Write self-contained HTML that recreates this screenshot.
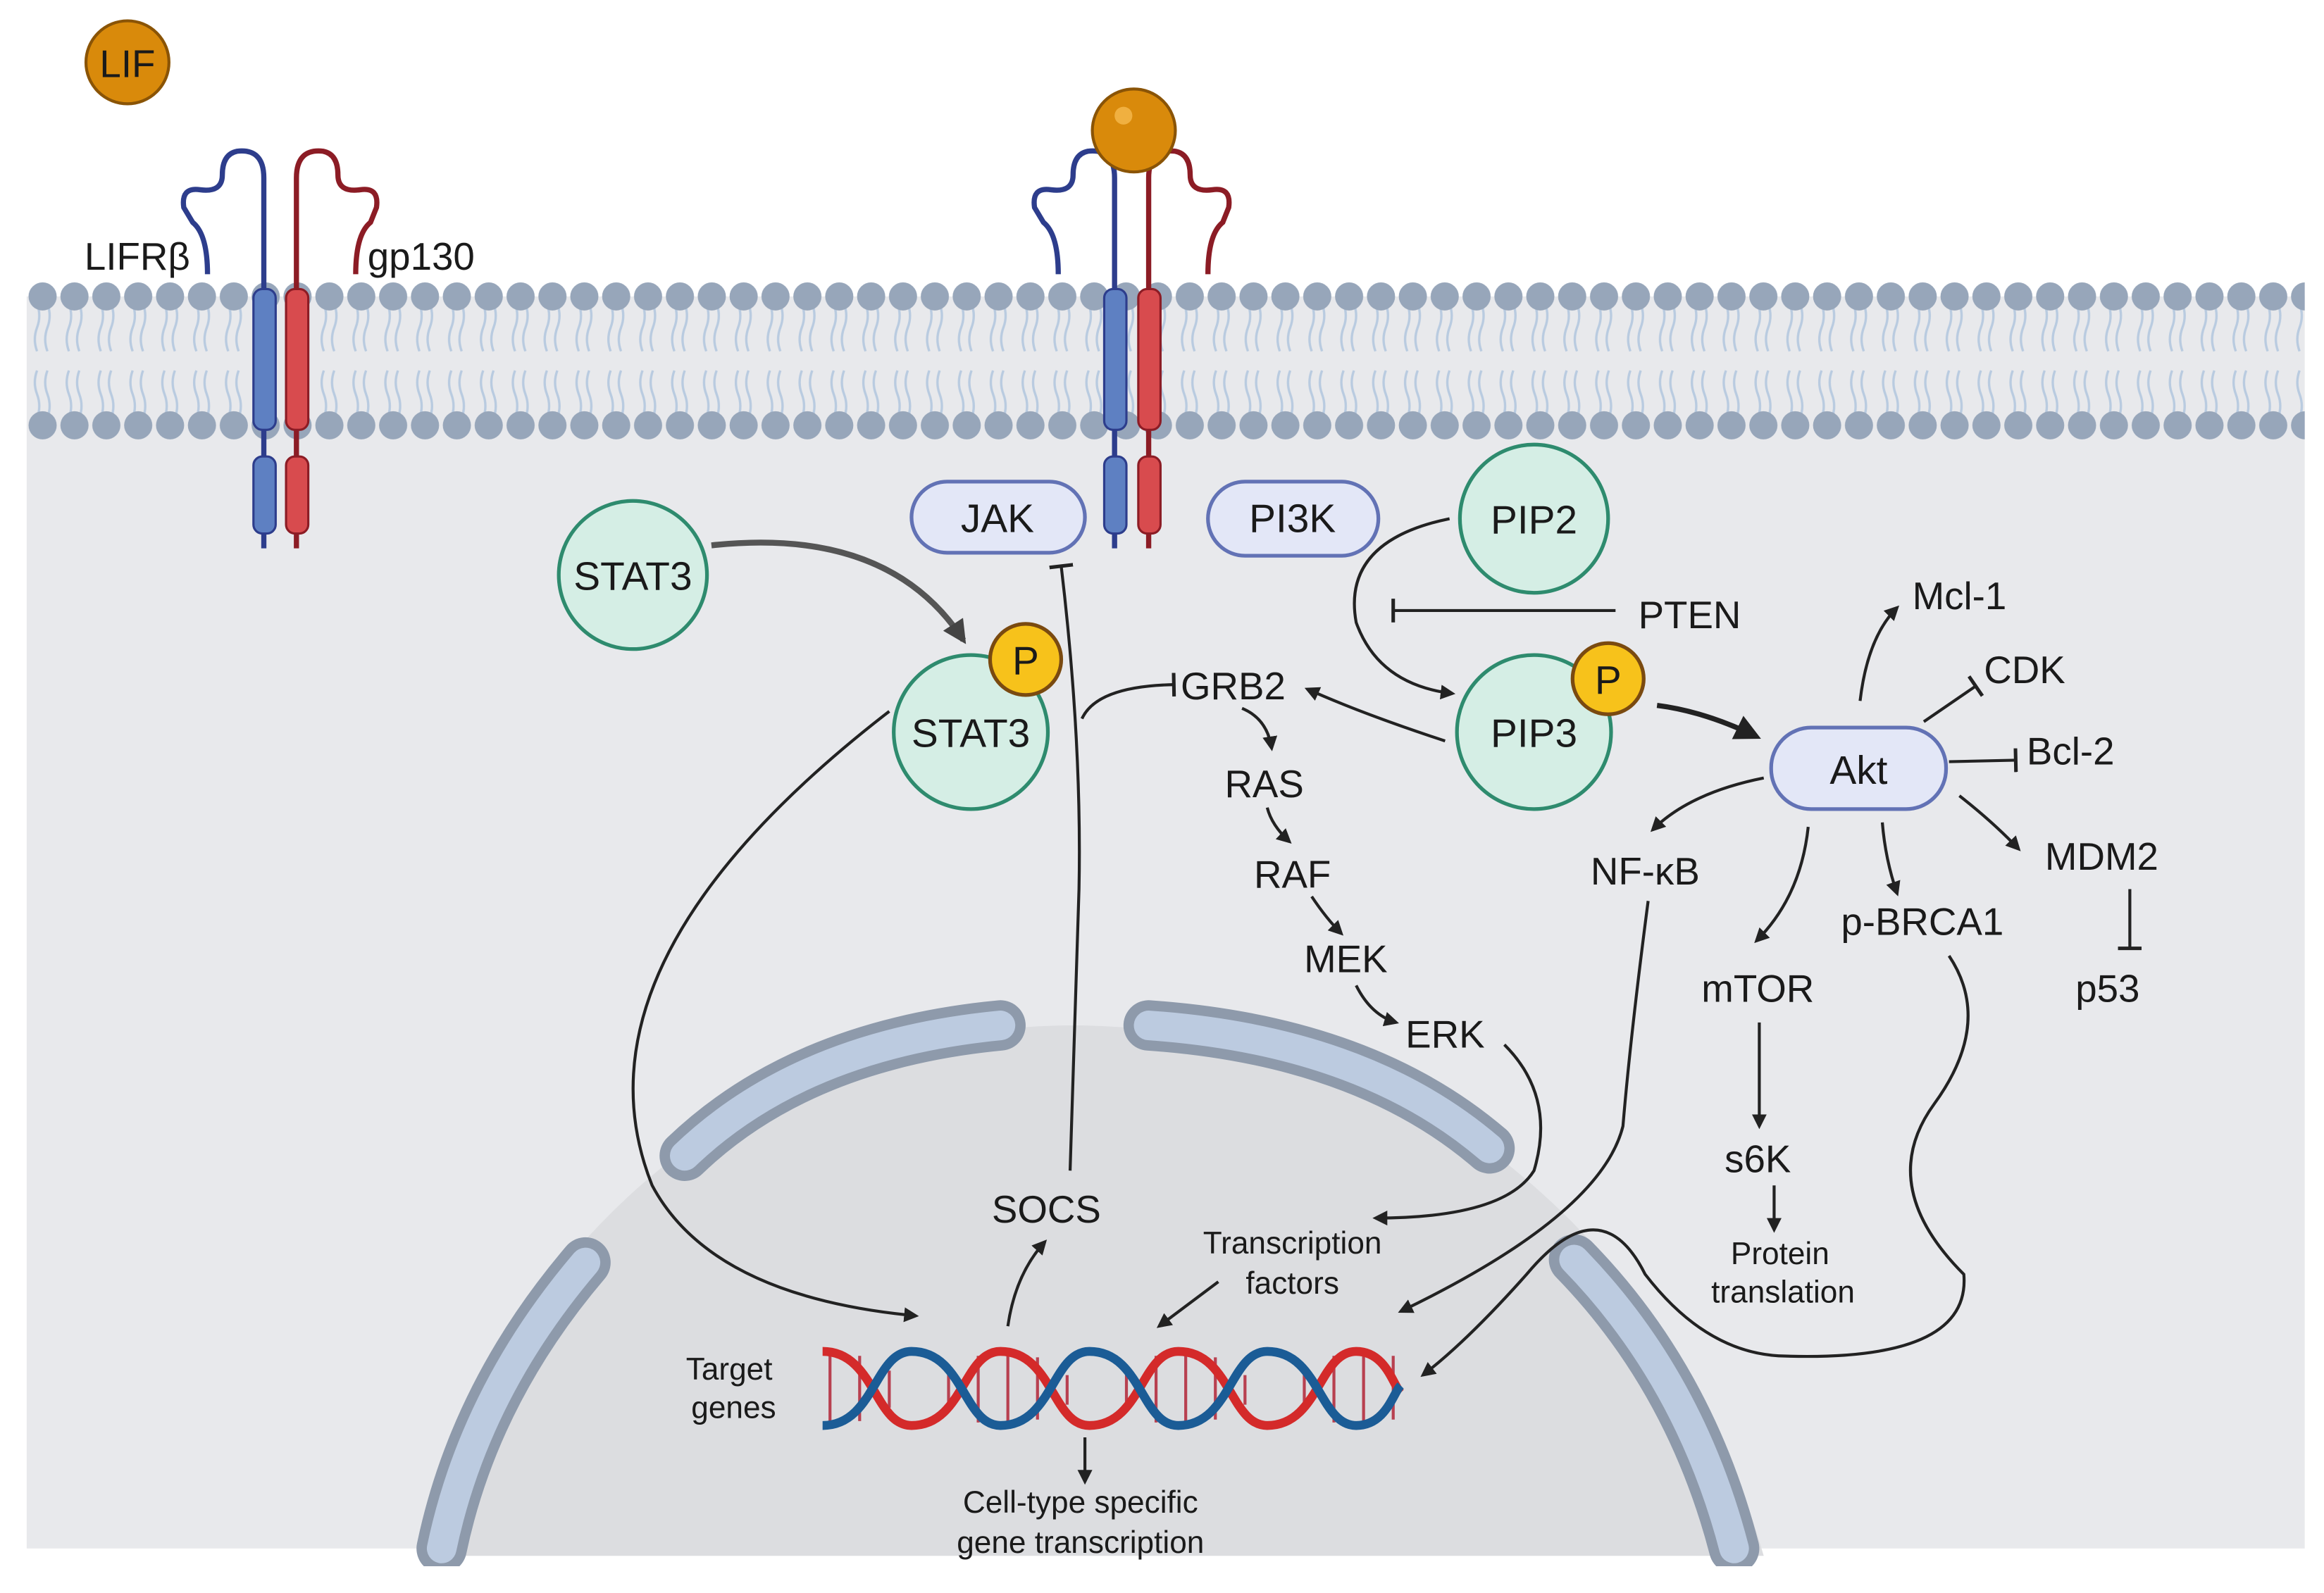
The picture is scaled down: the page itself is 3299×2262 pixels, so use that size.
<!DOCTYPE html>
<html><head><meta charset="utf-8"><style>
html,body{margin:0;padding:0;background:#fff;}
svg{display:block;}
text{font-family:"Liberation Sans",sans-serif;fill:#1a1a1a;}
</style></head><body>
<svg width="3299" height="2262" viewBox="0 0 1568 1075" xmlns="http://www.w3.org/2000/svg">
<defs>
<marker id="a" viewBox="0 0 10 10" refX="8" refY="5" markerWidth="5" markerHeight="5" orient="auto-start-reverse"><path d="M0,0 L10,5 L0,10 z" fill="#222"/></marker>
<marker id="A" viewBox="0 0 10 10" refX="8" refY="5" markerWidth="4" markerHeight="4" orient="auto"><path d="M0,0 L10,5 L0,10 z" fill="#444"/></marker>
<marker id="t" viewBox="0 0 10 20" refX="5" refY="10" markerWidth="4" markerHeight="8" orient="auto"><path d="M5,0 L5,20" stroke="#222" stroke-width="3"/></marker>
<pattern id="mem" x="18" y="0" width="21.5" height="1075" patternUnits="userSpaceOnUse">
<path d="M7,205 q3,8 0,16 q-3,8 0,16 M14,205 q3,8 0,16 q-3,8 0,16 M7,282 q3,-8 0,-16 q-3,-8 0,-16 M14,282 q3,-8 0,-16 q-3,-8 0,-16" stroke="#b9cbe0" stroke-width="1.6" fill="none"/>
<circle cx="10.75" cy="200" r="9.5" fill="#97a6ba"/>
<circle cx="10.75" cy="287" r="9.5" fill="#97a6ba"/>
</pattern>
</defs>
<rect x="18" y="200" width="1537" height="845" fill="#e8e9ec"/>
<rect x="18" y="189" width="1537" height="110" fill="url(#mem)"/>
<!-- nucleus -->
<path d="M285 1050 Q330 870 470 770 Q600 690 730 692 Q880 695 1010 780 Q1140 880 1190 1050 Z" fill="#dcdde0"/>
<g fill="none" stroke-linecap="round">
<g stroke="#8e9aab" stroke-width="34">
<path d="M462 780 Q540 705 675 692"/><path d="M775 692 Q920 702 1005 775"/>
<path d="M395 852 Q320 940 298 1045"/><path d="M1062 850 Q1140 930 1170 1045"/></g>
<g stroke="#bccbe0" stroke-width="20">
<path d="M462 780 Q540 705 675 692"/><path d="M775 692 Q920 702 1005 775"/>
<path d="M395 852 Q320 940 298 1045"/><path d="M1062 850 Q1140 930 1170 1045"/></g>
</g>
<rect x="0" y="1057" width="1568" height="18" fill="#fff"/>
<!-- receptors -->
<g fill="none" stroke-width="3.5">
<path d="M178 370 L178 120 Q178 100 160 102 Q150 104 150 118 Q150 130 135 128 Q122 126 124 140 L130 150 Q140 158 140 185" stroke="#2d3d8c"/>
<path d="M200 370 L200 120 Q200 100 218 102 Q228 104 228 118 Q228 130 243 128 Q256 126 254 140 L250 150 Q240 158 240 185" stroke="#8c1c25"/>
<path d="M752 370 L752 120 Q752 100 734 102 Q724 104 724 118 Q724 130 709 128 Q696 126 698 140 L704 150 Q714 158 714 185" stroke="#2d3d8c"/>
<path d="M775 370 L775 120 Q775 100 793 102 Q803 104 803 118 Q803 130 818 128 Q831 126 829 140 L825 150 Q815 158 815 185" stroke="#8c1c25"/>
</g>
<g stroke-width="1.5">
<rect x="171" y="195" width="15" height="95" rx="6" fill="#5e80c2" stroke="#2d3d8c"/>
<rect x="171" y="308" width="15" height="52" rx="6" fill="#5e80c2" stroke="#2d3d8c"/>
<rect x="193" y="195" width="15" height="95" rx="6" fill="#d84b4e" stroke="#8c1c25"/>
<rect x="193" y="308" width="15" height="52" rx="6" fill="#d84b4e" stroke="#8c1c25"/>
<rect x="745" y="195" width="15" height="95" rx="6" fill="#5e80c2" stroke="#2d3d8c"/>
<rect x="745" y="308" width="15" height="52" rx="6" fill="#5e80c2" stroke="#2d3d8c"/>
<rect x="768" y="195" width="15" height="95" rx="6" fill="#d84b4e" stroke="#8c1c25"/>
<rect x="768" y="308" width="15" height="52" rx="6" fill="#d84b4e" stroke="#8c1c25"/>
</g>
<circle cx="86" cy="42" r="28" fill="#d98a0b" stroke="#8a5406" stroke-width="2"/>
<text x="86" y="52" font-size="26" text-anchor="middle">LIF</text>
<circle cx="765" cy="88" r="28" fill="#d98a0b" stroke="#8a5406" stroke-width="2"/>
<circle cx="758" cy="78" r="6" fill="#f0b040"/>
<text x="57" y="182" font-size="26">LIFRβ</text>
<text x="248" y="182" font-size="26">gp130</text>
<!-- pills -->
<g fill="#e3e7f7" stroke="#6272b5" stroke-width="2.5">
<rect x="615" y="325" width="117" height="48" rx="24"/>
<rect x="815" y="325" width="115" height="50" rx="25"/>
<rect x="1195" y="491" width="118" height="55" rx="27"/>
</g>
<g font-size="27" text-anchor="middle">
<text x="673" y="359">JAK</text><text x="872" y="359">PI3K</text><text x="1254" y="529">Akt</text>
</g>
<!-- circles -->
<g fill="#d5eee5" stroke="#2e8b6e" stroke-width="2.5">
<circle cx="427" cy="388" r="50"/><circle cx="655" cy="494" r="52"/>
<circle cx="1035" cy="350" r="50"/><circle cx="1035" cy="494" r="52"/>
</g>
<g fill="#f7c21b" stroke="#7a4a10" stroke-width="2.5">
<circle cx="692" cy="445" r="24"/><circle cx="1085" cy="458" r="24"/>
</g>
<g font-size="27" text-anchor="middle">
<text x="427" y="398">STAT3</text><text x="655" y="504">STAT3</text>
<text x="1035" y="360">PIP2</text><text x="1035" y="504">PIP3</text>
<text x="692" y="455">P</text><text x="1085" y="468">P</text>
</g>
<!-- labels -->
<g font-size="26" text-anchor="middle">
<text x="832" y="472">GRB2</text><text x="853" y="538">RAS</text><text x="872" y="599">RAF</text>
<text x="908" y="656">MEK</text><text x="975" y="707">ERK</text><text x="1140" y="424">PTEN</text>
<text x="1322" y="411">Mcl-1</text><text x="1366" y="461">CDK</text><text x="1397" y="516">Bcl-2</text>
<text x="1418" y="587">MDM2</text><text x="1422" y="676">p53</text><text x="1110" y="597">NF-κB</text>
<text x="1297" y="631">p-BRCA1</text><text x="1186" y="676">mTOR</text><text x="1186" y="791">s6K</text>
<text x="706" y="825">SOCS</text>
</g>
<g font-size="21" text-anchor="middle">
<text x="1201" y="853">Protein</text><text x="1203" y="879">translation</text>
<text x="872" y="846">Transcription</text><text x="872" y="873">factors</text>
<text x="492" y="931">Target</text><text x="495" y="957">genes</text>
<text x="729" y="1021">Cell-type specific</text><text x="729" y="1048">gene transcription</text>
</g>
<!-- DNA -->
<g stroke-width="2">
<path d="M560 912 L560 962 M580 915 L580 959 M600 925 L600 950 M640 925 L640 950 M660 915 L660 960 M680 912 L680 962 M700 916 L700 958 M720 928 L720 948 M760 928 L760 948 M780 915 L780 960 M800 912 L800 962 M820 916 L820 958 M840 928 L840 948 M880 926 L880 950 M900 915 L900 960 M920 912 L920 962 M940 915 L940 958" stroke="#b84050"/>
</g>
<path d="M555 912 C590 912 590 962 615 962 C650 962 650 912 675 912 C710 912 710 962 735 962 C770 962 770 912 795 912 C830 912 830 962 855 962 C890 962 890 912 915 912 C935 912 940 935 945 940" stroke="#d42a2a" stroke-width="6" fill="none"/>
<path d="M555 962 C590 962 590 912 615 912 C650 912 650 962 675 962 C710 962 710 912 735 912 C770 912 770 962 795 962 C830 962 830 912 855 912 C890 912 890 962 915 962 C935 962 940 940 945 935" stroke="#1b5c96" stroke-width="6" fill="none"/>
<!-- arrows -->
<g fill="none" stroke="#222" stroke-width="2">
<path d="M480 368 Q600 355 650 432" stroke="#555" stroke-width="4" marker-end="url(#A)"/>
<path d="M600 480 Q380 650 440 800 Q480 875 618 888" marker-end="url(#a)"/>
<path d="M722 790 L728 600 Q730 500 716 382" marker-end="url(#t)"/>
<path d="M730 485 Q740 463 792 462" marker-end="url(#t)"/>
<path d="M680 895 Q685 860 705 838" marker-end="url(#a)"/>
<path d="M975 500 Q920 482 882 465" marker-end="url(#a)"/>
<path d="M838 478 Q855 485 858 505" marker-end="url(#a)"/>
<path d="M855 545 Q858 557 870 568" marker-end="url(#a)"/>
<path d="M885 605 Q895 620 905 630" marker-end="url(#a)"/>
<path d="M915 665 Q925 685 942 690" marker-end="url(#a)"/>
<path d="M1015 705 Q1050 740 1035 790 Q1015 822 928 822" marker-end="url(#a)"/>
<path d="M822 865 L782 895" marker-end="url(#a)"/>
<path d="M1112 608 Q1100 700 1095 760 Q1080 820 945 885" marker-end="url(#a)"/>
<path d="M1315 645 Q1345 690 1305 745 Q1265 800 1325 860 Q1330 920 1200 915 Q1150 912 1110 860 Q1080 800 1030 860 Q990 905 960 928" marker-end="url(#a)"/>
<path d="M978 350 Q905 365 915 420 Q930 462 980 468" marker-end="url(#a)"/>
<path d="M1090 412 L940 412" marker-end="url(#t)"/>
<path d="M1118 476 Q1150 480 1185 497" stroke-width="3.5" marker-end="url(#a)"/>
<path d="M1255 473 Q1260 430 1280 410" marker-end="url(#a)"/>
<path d="M1298 487 L1333 463" marker-end="url(#t)"/>
<path d="M1315 514 L1360 513" marker-end="url(#t)"/>
<path d="M1322 537 Q1345 555 1362 573" marker-end="url(#a)"/>
<path d="M1437 600 L1437 640" marker-end="url(#t)"/>
<path d="M1190 525 Q1140 535 1115 560" marker-end="url(#a)"/>
<path d="M1220 558 Q1215 605 1185 635" marker-end="url(#a)"/>
<path d="M1270 555 Q1272 580 1280 603" marker-end="url(#a)"/>
<path d="M1187 690 L1187 760" marker-end="url(#a)"/>
<path d="M1197 800 L1197 830" marker-end="url(#a)"/>
<path d="M732 970 L732 1000" marker-end="url(#a)"/>
</g>
</svg>
</body></html>
